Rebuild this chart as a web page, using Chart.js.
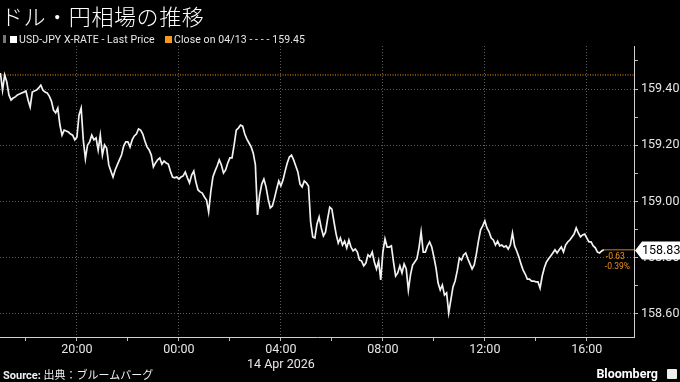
<!DOCTYPE html>
<html>
<head>
<meta charset="utf-8">
<script src="https://cdn.jsdelivr.net/npm/chart.js@4.4.1/dist/chart.umd.min.js"></script>
<style>
  html, body { margin: 0; padding: 0; background: #000; }
  #wrap { position: relative; width: 680px; height: 382px; background: #000; overflow: hidden; }
  #chart { position: absolute; left: 0; top: 0; }
  .title { position: absolute; left: 1px; top: 4px; font: 22px/22px "Noto Sans CJK JP", sans-serif; color: #fff; letter-spacing: 0.6px; font-weight: 300; }
  .legend { position: absolute; left: 0; top: 34px; font: 10.5px/12px Roboto, "Noto Sans", sans-serif; color: #e8e8e8; white-space: nowrap; }
  .legend span { position: absolute; top: 0; }
  .sq { width: 7px; height: 7px; top: 2px !important; }
  .footer { position: absolute; left: 3px; top: 369px; font: 11px/13px Roboto, "Noto Sans CJK JP", sans-serif; color: #f0f0f0; white-space: nowrap; }
  .footer b { font-weight: 700; }
  .brand { position: absolute; right: 22px; top: 366px; font: bold 12.5px/15px Roboto, sans-serif; color: #fff; }
  .logo { position: absolute; left: 667px; top: 369px; width: 10px; height: 10px; background: #eee; border-radius: 1px; }
</style>
</head>
<body>
<div id="wrap">
  <canvas id="chart" width="680" height="382"></canvas>
  <div class="title">ドル・円相場の推移</div>
  <div class="legend">
    <span style="left:3px;top:1px;width:3px;height:8px;background:#777;"></span>
    <span class="sq" style="left:10px;background:#fff;"></span>
    <span style="left:19px;letter-spacing:0.1px;">USD-JPY X-RATE - Last Price</span>
    <span class="sq" style="left:165px;background:#f39a1e;"></span>
    <span style="left:174px;letter-spacing:0.1px;">Close on 04/13 - - - - 159.45</span>
  </div>
  <div class="footer"><b>Source:</b> 出典：ブルームバーグ</div>
  <div class="brand">Bloomberg</div>
  <div class="logo"></div>
</div>
<script>
// USD-JPY, 5 minute samples starting 13 Apr 17:00 (minutes from 14 Apr 00:00)
const startMinute = -420;
const stepMinutes = 5;

const prices = [
    159.457, 159.396, 159.450, 159.425, 159.379, 159.361, 159.368, 159.372, 159.379, 159.382,
    159.386, 159.389, 159.393, 159.361, 159.336, 159.389, 159.393, 159.396, 159.404, 159.414,
    159.396, 159.389, 159.386, 159.375, 159.357, 159.325, 159.315, 159.332, 159.272, 159.236,
    159.254, 159.251, 159.247, 159.240, 159.236, 159.219, 159.229, 159.308, 159.332, 159.219,
    159.152, 159.201, 159.212, 159.236, 159.219, 159.226, 159.183, 159.236, 159.165, 159.201,
    159.190, 159.130, 159.108, 159.087, 159.112, 159.130, 159.148, 159.165, 159.197, 159.212,
    159.212, 159.194, 159.219, 159.233, 159.240, 159.258, 159.254, 159.240, 159.215, 159.194,
    159.183, 159.165, 159.123, 159.137, 159.148, 159.155, 159.133, 159.144, 159.137, 159.133,
    159.108, 159.087, 159.084, 159.087, 159.080, 159.087, 159.091, 159.105, 159.084, 159.066,
    159.094, 159.108, 159.069, 159.041, 159.034, 159.030, 159.016, 159.005, 158.963, 159.034,
    159.087, 159.108, 159.126, 159.148, 159.130, 159.101, 159.112, 159.137, 159.155, 159.155,
    159.201, 159.254, 159.261, 159.272, 159.268, 159.240, 159.222, 159.208, 159.194, 159.172,
    159.130, 158.952, 159.023, 159.062, 159.080, 159.052, 159.009, 158.977, 158.984, 159.012,
    159.044, 159.073, 159.055, 159.076, 159.108, 159.137, 159.158, 159.165, 159.148, 159.126,
    159.105, 159.062, 159.052, 159.073, 159.066, 159.055, 158.927, 158.874, 158.870, 158.920,
    158.945, 158.906, 158.877, 158.891, 158.938, 158.980, 158.973, 158.927, 158.884, 158.852,
    158.870, 158.845, 158.859, 158.835, 158.863, 158.838, 158.824, 158.831, 158.820, 158.792,
    158.788, 158.771, 158.781, 158.810, 158.803, 158.820, 158.785, 158.760, 158.788, 158.721,
    158.820, 158.867, 158.838, 158.838, 158.842, 158.785, 158.735, 158.746, 158.771, 158.746,
    158.778, 158.760, 158.685, 158.739, 158.774, 158.785, 158.796, 158.835, 158.892, 158.820,
    158.820, 158.842, 158.856, 158.838, 158.803, 158.764, 158.710, 158.685, 158.703, 158.667,
    158.675, 158.604, 158.650, 158.696, 158.717, 158.753, 158.799, 158.792, 158.810, 158.817,
    158.796, 158.778, 158.760, 158.774, 158.813, 158.860, 158.899, 158.913, 158.931, 158.906,
    158.892, 158.870, 158.863, 158.845, 158.859, 158.842, 158.845, 158.838, 158.842, 158.831,
    158.845, 158.888, 158.842, 158.824, 158.803, 158.778, 158.756, 158.742, 158.724, 158.724,
    158.717, 158.717, 158.714, 158.714, 158.692, 158.735, 158.764, 158.785, 158.796, 158.806,
    158.817, 158.828, 158.817, 158.828, 158.838, 158.820, 158.845, 158.856, 158.863, 158.874,
    158.884, 158.906, 158.888, 158.874, 158.881, 158.884, 158.870, 158.856, 158.856, 158.842,
    158.835, 158.820, 158.817, 158.824, 158.828
];

const closePrice = 159.45;
const lastLabel = "158.83";
const changeLabels = ["-0.63", "-0.39%"];

const yTickValues = [158.6, 158.7, 158.8, 158.9, 159.0, 159.1, 159.2, 159.3, 159.4, 159.5];
const xTickMinutes = [-360, -240, -120, 0, 120, 240, 360, 480, 600, 720, 840, 960];
const dateLabel = "14 Apr 2026";

const xMin = -421, xMax = 1071;
const yMin = 158.518, yMax = 159.553;

const orange = "#f0951c";
const labelColor = "#e6e6e6";
const gridColor = "#5c5c5c";

const points = prices.map((p, i) => ({ x: startMinute + i * stepMinutes, y: p }));
const last = points[points.length - 1];

const isMajorY = v => Math.abs(v * 5 - Math.round(v * 5)) < 1e-6;

function xLabel(v) {
    if (v % 240 !== 0) return "";
    const h = ((v / 60) % 24 + 24) % 24;
    const txt = String(h).padStart(2, "0") + ":00";
    return v === 240 ? [txt, dateLabel] : txt;
}

const lastPricePlugin = {
    id: "lastPrice",
    afterDraw(chart) {
        const { ctx, chartArea, scales: { x, y } } = chart;
        const py = Math.round(y.getPixelForValue(last.y)) + 0.5;
        const ax = chartArea.right;

        ctx.save();
        ctx.fillStyle = "#fff";
        ctx.beginPath();
        ctx.moveTo(ax + 1, py);
        ctx.lineTo(ax + 8, py - 9);
        ctx.lineTo(680, py - 9);
        ctx.lineTo(680, py + 9);
        ctx.lineTo(ax + 8, py + 9);
        ctx.closePath();
        ctx.fill();

        ctx.fillStyle = "#000";
        ctx.font = "12.5px Roboto";
        ctx.textBaseline = "middle";
        ctx.textAlign = "left";
        ctx.fillText(lastLabel, ax + 8, py + 0.5);

        const lx = x.getPixelForValue(last.x) + 1;
        ctx.fillStyle = orange;
        ctx.font = "8.5px Roboto";
        ctx.fillText(changeLabels[0], lx + 1, py + 6);
        ctx.fillText(changeLabels[1], lx, py + 16);
        ctx.restore();
    }
};

new Chart(document.getElementById("chart"), {
    type: "line",
    data: {
        datasets: [
            {
                data: points,
                borderColor: "#f2f2f2",
                borderWidth: 1.7,
                pointRadius: 0,
                tension: 0
            },
            {
                data: [{ x: xMin, y: closePrice }, { x: xMax, y: closePrice }],
                borderColor: orange,
                borderWidth: 1,
                borderDash: [1, 1.5],
                pointRadius: 0
            },
            {
                data: [{ x: last.x, y: last.y }, { x: xMax, y: last.y }],
                borderColor: "#c9801c",
                borderWidth: 1,
                pointRadius: 0
            }
        ]
    },
    options: {
        responsive: false,
        animation: false,
        devicePixelRatio: 1,
        layout: { padding: { top: 46, left: 0, right: 0, bottom: 0 } },
        plugins: { legend: { display: false }, tooltip: { enabled: false } },
        scales: {
            x: {
                type: "linear",
                min: xMin,
                max: xMax,
                afterBuildTicks: s => { s.ticks = xTickMinutes.map(v => ({ value: v })); },
                afterFit: s => { s.height = 45; },
                ticks: {
                    autoSkip: false,
                    maxRotation: 0,
                    padding: 1,
                    color: labelColor,
                    font: { family: "Roboto", size: 12.5, lineHeight: 1.2 },
                    callback: v => xLabel(v)
                },
                grid: {
                    color: c => (c.tick && c.tick.value % 240 === 0) ? gridColor : "rgba(0,0,0,0)",
                    tickColor: "#bdbdbd",
                    tickLength: 4
                },
                border: { color: "#cfcfcf", width: 1, dash: [1, 2] }
            },
            y: {
                position: "right",
                min: yMin,
                max: yMax,
                afterBuildTicks: s => { s.ticks = yTickValues.map(v => ({ value: v })); },
                afterFit: s => { s.width = 46; },
                ticks: {
                    padding: 3,
                    color: labelColor,
                    font: { family: "Roboto", size: 12.5 },
                    callback: v => isMajorY(v) ? v.toFixed(2) : ""
                },
                grid: {
                    color: c => (c.tick && isMajorY(c.tick.value)) ? gridColor : "rgba(0,0,0,0)",
                    tickColor: "#bdbdbd",
                    tickLength: 4
                },
                border: { color: "#cfcfcf", width: 1, dash: [1, 2] }
            }
        }
    },
    plugins: [lastPricePlugin]
});
</script>
</body>
</html>
